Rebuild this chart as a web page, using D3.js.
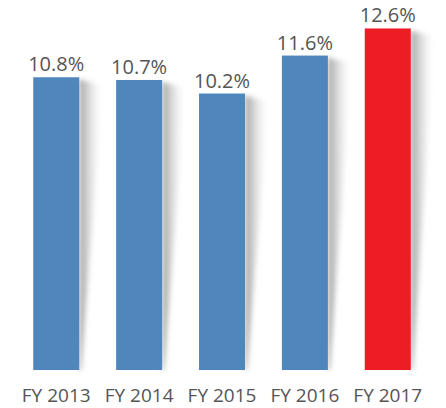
<!DOCTYPE html>
<html><head><meta charset="utf-8">
<script src="https://cdn.jsdelivr.net/npm/d3@7"></script>
<style>html,body{margin:0;padding:0;background:#fff;}svg{display:block;}</style>
</head><body>
<script>
const categories = ["FY 2013","FY 2014","FY 2015","FY 2016","FY 2017"];
const values = [10.8, 10.7, 10.2, 11.6, 12.6];
const valueLabels = ["10.8%","10.7%","10.2%","11.6%","12.6%"];
const highlight = [false,false,false,false,true];

const W = 446, H = 408;
const svg = d3.select("body").append("svg").attr("width", W).attr("height", H);
const defs = svg.append("defs");
const g = defs.append("linearGradient").attr("id","sh").attr("x1","0").attr("x2","1").attr("y1","0").attr("y2","0");
g.append("stop").attr("offset","0").attr("stop-color","#8f8f8f").attr("stop-opacity",0.85);
g.append("stop").attr("offset","0.6").attr("stop-color","#d0d0d0").attr("stop-opacity",0.4);
g.append("stop").attr("offset","1").attr("stop-color","#ffffff").attr("stop-opacity",0);
defs.append("filter").attr("id","blur").attr("x","-50%").attr("y","-10%").attr("width","200%").attr("height","120%")
  .append("feGaussianBlur").attr("stdDeviation",2.5);

const x = d3.scaleBand().domain(categories).range([15, 429]).paddingInner(0.445).paddingOuter(0.22);
const y = d3.scaleLinear().domain([0, 13.65]).range([370, 0]);

const data = categories.map((c,i)=>({c, v:values[i], l:valueLabels[i], h:highlight[i]}));

svg.selectAll("path.shadow").data(data).enter().append("path")
  .attr("class","shadow")
  .attr("d", d => {
    const r = x(d.c) + x.bandwidth();
    const t = y(d.v);
    return `M${r},${t+2} L${r+24},${t+8} L${r+2},${y(0)} L${r},${y(0)} Z`;
  })
  .attr("fill","url(#sh)")
  .attr("filter","url(#blur)");

svg.selectAll("rect.bar").data(data).enter().append("rect")
  .attr("class","bar")
  .attr("x", d => x(d.c)).attr("width", x.bandwidth())
  .attr("y", d => y(d.v)).attr("height", d => y(0) - y(d.v))
  .attr("fill", d => d.h ? "#ee1c25" : "#4f86bc");

svg.selectAll("text.val").data(data).enter().append("text")
  .attr("class","val")
  .attr("x", d => x(d.c) + x.bandwidth()/2)
  .attr("y", d => y(d.v) - 6)
  .attr("text-anchor","middle")
  .attr("font-family","'Open Sans', sans-serif")
  .attr("font-size", 20)
  .attr("fill","#555")
  .text(d => d.l);

svg.selectAll("text.cat").data(data).enter().append("text")
  .attr("class","cat")
  .attr("x", d => x(d.c) + x.bandwidth()/2)
  .attr("y", 402)
  .attr("text-anchor","middle")
  .attr("font-family","'Open Sans', sans-serif")
  .attr("font-size", 19)
  .attr("fill","#555")
  .text(d => d.c);
</script>
</body></html>
